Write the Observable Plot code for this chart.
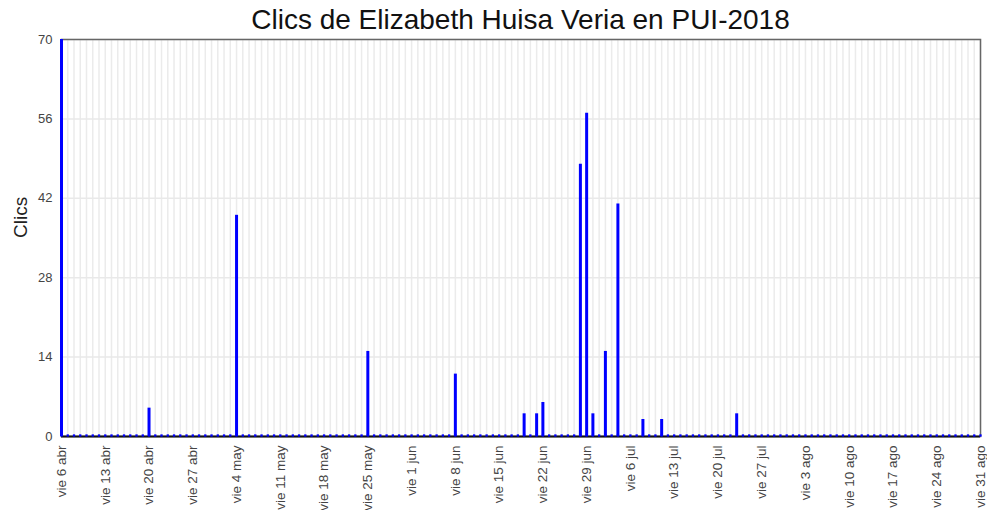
<!DOCTYPE html>
<html>
<head>
<meta charset="utf-8">
<script src="https://cdn.jsdelivr.net/npm/d3@7"></script>
<script src="https://cdn.jsdelivr.net/npm/@observablehq/plot@0.6"></script>
<style>
  body { margin: 0; background: #fff; font-family: "Liberation Sans", Arial, sans-serif; }
  #title { height: 31px; line-height: 40px; font-size: 28px; text-align: center; padding-left: 61px; padding-right: 7px; color: #111; white-space: nowrap; overflow: visible; }
</style>
</head>
<body>
<div id="title">Clics de Elizabeth Huisa Veria en PUI-2018</div>
<div id="chart"></div>
<script>
// Daily clicks, starting vie 6 abr 2018 (one value per day, 148 days)
const startDate = "2018-04-06";
const clicks = [
  70,0,0,0,0,0,0,
  0,0,0,0,0,0,0,
  5,0,0,0,0,0,0,
  0,0,0,0,0,0,0,
  39,0,0,0,0,0,0,
  0,0,0,0,0,0,0,
  0,0,0,0,0,0,0,
  15,0,0,0,0,0,0,
  0,0,0,0,0,0,0,
  11,0,0,0,0,0,0,
  0,0,0,0,4,0,4,
  6,0,0,0,0,0,48,
  57,4,0,15,0,41,0,
  0,0,3,0,0,3,0,
  0,0,0,0,0,0,0,
  0,0,0,4,0,0,0,
  0,0,0,0,0,0,0,
  0,0,0,0,0,0,0,
  0,0,0,0,0,0,0,
  0,0,0,0,0,0,0,
  0,0,0,0,0,0,0,
  0
];
const yTicks = [0, 14, 28, 42, 56, 70];
const tickLabels = [
  "vie 6 abr","vie 13 abr","vie 20 abr","vie 27 abr","vie 4 may","vie 11 may",
  "vie 18 may","vie 25 may","vie 1 jun","vie 8 jun","vie 15 jun","vie 22 jun",
  "vie 29 jun","vie 6 jul","vie 13 jul","vie 20 jul","vie 27 jul","vie 3 ago",
  "vie 10 ago","vie 17 ago","vie 24 ago","vie 31 ago"
];

const start = new Date(startDate + "T00:00:00Z");
const data = clicks.map((v, i) => ({date: d3.utcDay.offset(start, i), value: v}));
const tickDates = tickLabels.map((_, i) => d3.utcDay.offset(start, 7 * i));
const labelByTime = new Map(tickDates.map((d, i) => [d.getTime(), tickLabels[i]]));

const chart = Plot.plot({
  width: 987,
  height: 479,
  marginTop: 8,
  marginBottom: 74,
  marginLeft: 61,
  marginRight: 7,
  style: {fontFamily: "Liberation Sans, Arial, sans-serif", fontSize: "13px", color: "#444"},
  x: {type: "utc", domain: [data[0].date, data[data.length - 1].date]},
  y: {domain: [0, 70]},
  marks: [
    Plot.ruleX(data, {x: "date", stroke: "#ebebeb", strokeWidth: 1.5}),
    Plot.ruleY(yTicks.slice(1), {stroke: "#e9e9e9", strokeWidth: 1.5}),
    Plot.frame({stroke: "#666", strokeWidth: 1.5}),
    Plot.axisY({ticks: yTicks, tickSize: 0, tickPadding: 9, label: null, fontSize: 13}),
    Plot.axisX({ticks: tickDates, tickFormat: d => labelByTime.get(d.getTime()), tickRotate: -90, tickSize: 0, tickPadding: 9, label: null, fontSize: 13.5}),
    Plot.ruleY([0], {stroke: "#111", strokeWidth: 2}),
    Plot.ruleX([data[0].date], {stroke: "#111", strokeWidth: 2}),
    Plot.ruleX(data.filter(d => d.value > 0), {x: "date", y1: 0, y2: "value", stroke: "#0000ff", strokeWidth: 3}),
    Plot.dot(data, {x: "date", y: 0, symbol: "square", r: 1.3, fill: "#0000ff", dy: -1}),
    Plot.text(["Clics"], {frameAnchor: "left", rotate: -90, dx: -41, fontSize: 19, fill: "#222"})
  ]
});
document.getElementById("chart").appendChild(chart);
</script>
</body>
</html>
